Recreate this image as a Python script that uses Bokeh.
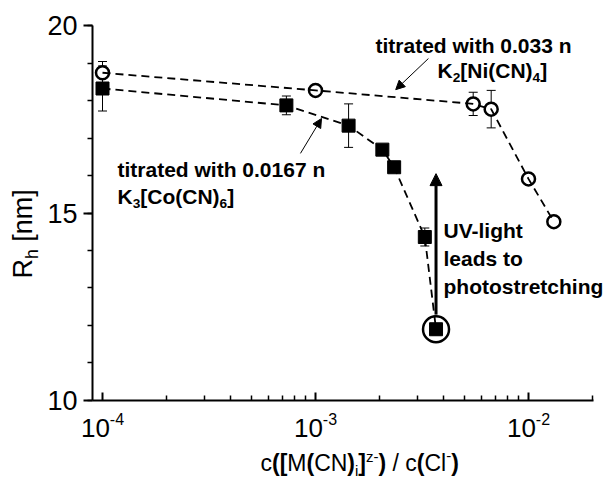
import math
from bokeh.plotting import figure
from bokeh.models import (Range1d, FixedTicker, CustomJSTickFormatter, Label, Arrow,
                          NormalHead, Whisker, TeeHead, ColumnDataSource)
from bokeh.embed import file_html
from bokeh.resources import INLINE

# ---------------- data ----------------
# K3[Co(CN)6] titration (filled squares)
c_co = [1.0e-4, 7.3e-4, 1.43e-3, 2.06e-3, 2.34e-3, 3.26e-3, 3.68e-3]
rh_co = [18.32, 17.87, 17.33, 16.69, 16.22, 14.36, 11.90]
err_co = [0.60, 0.25, 0.58, 0.10, 0.10, 0.24, 0.15]

# K2[Ni(CN)4] titration (open circles)
c_ni = [1.0e-4, 1.0e-3, 5.5e-3, 6.68e-3, 1.0e-2, 1.315e-2]
rh_ni = [18.74, 18.27, 17.91, 17.77, 15.91, 14.77]
err_ni = [0.30, 0.05, 0.31, 0.50, 0.12, 0.10]

x_major = [1e-4, 1e-3, 1e-2]
x_minor = [k * 10.0 ** e for e in (-4, -3, -2) for k in range(2, 10) if k * 10.0 ** e <= 0.0201]
y_major = [10, 15, 20]
y_minor = list(range(10, 21))
x_axis_bounds = (10 ** -4.047, 10 ** -1.695)
y_axis_bounds = (10, 20)

FONT = "Liberation Sans"
W, H = 608, 479
BASE_FIX = 0.3465   # Label centres its text box; shift so the given y is the baseline

# frame covers the whole canvas; axes are drawn at fixed locations
p = figure(width=W, height=H, x_axis_type="log",
           x_range=Range1d(10 ** -4.4789, 10 ** -1.6244), y_range=Range1d(7.8933, 20.6667),
           output_backend="svg", toolbar_location=None,
           min_border_left=0, min_border_right=0, min_border_top=0, min_border_bottom=0)
p.outline_line_color = None
p.grid.visible = False
p.background_fill_color = "white"
p.border_fill_color = "white"

# axes
p.yaxis.ticker = FixedTicker(ticks=y_major, minor_ticks=y_minor)
p.xaxis.ticker = FixedTicker(ticks=x_major, minor_ticks=x_minor)
p.xaxis.formatter = CustomJSTickFormatter(code="return ''")
p.yaxis.fixed_location = x_axis_bounds[0]
p.xaxis.fixed_location = y_axis_bounds[0]
p.yaxis.bounds = y_axis_bounds
p.xaxis.bounds = x_axis_bounds
for ax in (p.xaxis[0], p.yaxis[0]):
    ax.axis_line_width = 2
    ax.major_tick_line_width = 2
    ax.minor_tick_line_width = 1.5
    ax.axis_line_color = "black"
    ax.major_tick_line_color = "black"
    ax.minor_tick_line_color = "black"
p.yaxis.major_tick_out = 9
p.yaxis.major_tick_in = 0
p.yaxis.minor_tick_out = 5
p.yaxis.minor_tick_in = 0
p.yaxis.major_label_text_font = FONT
p.yaxis.major_label_text_font_size = "27px"
p.yaxis.major_label_text_color = "black"
p.yaxis.major_label_standoff = 6
p.xaxis.major_tick_out = 0
p.xaxis.major_tick_in = 8
p.xaxis.minor_tick_out = 0
p.xaxis.minor_tick_in = 5

# error bars
src_co = ColumnDataSource(dict(x=c_co, up=[v + e for v, e in zip(rh_co, err_co)],
                               lo=[v - e for v, e in zip(rh_co, err_co)]))
src_ni = ColumnDataSource(dict(x=c_ni, up=[v + e for v, e in zip(rh_ni, err_ni)],
                               lo=[v - e for v, e in zip(rh_ni, err_ni)]))
for s in (src_co, src_ni):
    p.add_layout(Whisker(base="x", upper="up", lower="lo", source=s, dimension="height",
                         line_width=1, line_color="black",
                         upper_head=TeeHead(size=9, line_width=1, line_color="black"),
                         lower_head=TeeHead(size=9, line_width=1, line_color="black")))

# markers
p.scatter(c_co, rh_co, marker="square", size=13, color="black")
p.scatter(c_ni, rh_ni, marker="circle", size=13, fill_color="white",
          line_color="black", line_width=2.5)
# highlighted point
p.scatter([c_co[-1]], [rh_co[-1]], marker="circle", size=26, fill_color=None,
          line_color="black", line_width=2.5)

# dashed guide lines
p.line(c_co, rh_co, line_dash="8 5", line_width=1.8, line_color="black")
p.line(c_ni, rh_ni, line_dash="8 5", line_width=1.8, line_color="black")

# ---------------- text helpers ----------------
REG = {' ': 278, '(': 333, ')': 333, '[': 278, ']': 278, '/': 278, '-': 333, '.': 278,
       'c': 500, 'h': 556, 'i': 222, 'l': 222, 'm': 833, 'n': 556, 'z': 500,
       'C': 722, 'M': 833, 'N': 722, 'R': 722}
BOLD = {' ': 278, '(': 333, ')': 333, '[': 333, ']': 333, '-': 333, '.': 278,
        'K': 722, 'N': 722, 'C': 722, 'U': 722, 'V': 667, 'a': 556, 'c': 556, 'd': 611,
        'e': 556, 'g': 611, 'h': 611, 'i': 278, 'l': 278, 'n': 611, 'o': 611, 'p': 611,
        'r': 389, 's': 556, 't': 333, 'w': 778}
for d in "0123456789":
    REG[d] = 556
    BOLD[d] = 556


def tw(txt, bold, fs):
    tab = BOLD if bold else REG
    return sum(tab.get(ch, 556) for ch in txt) * fs / 1000.0


def run(pieces, px0, py0, size, angle=0.0):
    """Lay out a run of text pieces; (px0, py0) = baseline start in picture pixels."""
    x, y = px0, H - py0
    cur = 0.0
    for txt, kind, bold in pieces:
        if kind == "n":
            fs, shift = size, 0.0
        elif kind == "sub":
            fs, shift = 0.65 * size, -0.22 * size
        else:
            fs, shift = 0.65 * size, 0.40 * size
        shift += BASE_FIX * fs
        lead = len(txt) - len(txt.lstrip(" "))
        cur += tw(" " * lead, bold, fs)
        t = txt.strip(" ")
        if angle == 0.0:
            sx, sy = x + cur, y + shift
        else:
            sx, sy = x - shift, y + cur
        p.add_layout(Label(x=sx, y=sy, x_units="screen", y_units="screen", text=t,
                           angle=angle, text_font=FONT, text_font_size=f"{fs:.1f}px",
                           text_font_style="bold" if bold else "normal",
                           text_baseline="alphabetic", text_align="left",
                           text_color="black"))
        cur += tw(t, bold, fs)
        cur += tw(" " * (len(txt) - len(txt.rstrip(" "))), bold, fs) if t else 0.0


# x tick labels 10^n
for t in x_major:
    ex = str(int(round(math.log10(t))))
    w10 = tw("10", False, 26)
    wsup = tw(ex, False, 16)
    x0 = -(w10 + wsup) / 2.0
    p.add_layout(Label(x=t, y=H - 437 + BASE_FIX * 26, x_units="data", y_units="screen",
                       x_offset=x0, text="10", text_font=FONT, text_font_size="26px",
                       text_baseline="alphabetic", text_align="left", text_color="black"))
    p.add_layout(Label(x=t, y=H - 424 + BASE_FIX * 16, x_units="data", y_units="screen",
                       x_offset=x0 + w10, text=ex, text_font=FONT, text_font_size="16px",
                       text_baseline="alphabetic", text_align="left", text_color="black"))

# axis titles
run([("c", "n", False), ("(", "n", True), ("[", "n", True), ("M", "n", False),
     ("(", "n", True), ("CN", "n", False), (")", "n", True), ("i", "sub", False),
     ("]", "n", True), ("z-", "sup", False), (")", "n", True), (" / c", "n", False),
     ("(", "n", True), ("Cl", "n", False), ("-", "sup", False), (")", "n", True)],
    260, 470, 23)
run([("R", "n", False), ("h", "sub", False), (" [nm]", "n", False)],
    32, 278, 27, angle=math.pi / 2)

# annotations
AS = 21
run([("titrated with 0.033 n", "n", True)], 375, 52, AS)
run([("K", "n", True), ("2", "sub", True), ("[Ni(CN)", "n", True), ("4", "sub", True),
     ("]", "n", True)], 437, 77, AS)
run([("titrated with 0.0167 n", "n", True)], 117, 176, AS)
run([("K", "n", True), ("3", "sub", True), ("[Co(CN)", "n", True), ("6", "sub", True),
     ("]", "n", True)], 117, 203, AS)
run([("UV-light", "n", True)], 443, 237, AS)
run([("leads to", "n", True)], 443, 265, AS)
run([("photostretching", "n", True)], 443, 293, AS)

# arrows
p.add_layout(Arrow(x_start=3.39e-3, y_start=19.12, x_end=2.38e-3, y_end=18.29,
                   line_width=1, line_color="black",
                   end=NormalHead(size=9, fill_color="black", line_color="black", line_width=1)))
p.add_layout(Arrow(x_start=8.5e-4, y_start=16.59, x_end=1.067e-3, y_end=17.52,
                   line_width=1, line_color="black",
                   end=NormalHead(size=9, fill_color="black", line_color="black", line_width=1)))
p.add_layout(Arrow(x_start=c_co[-1], y_start=12.29, x_end=c_co[-1], y_end=16.05,
                   line_width=3, line_color="black",
                   end=NormalHead(size=12, fill_color="black", line_color="black", line_width=1)))

open("out.html", "w").write(file_html(p, INLINE))
